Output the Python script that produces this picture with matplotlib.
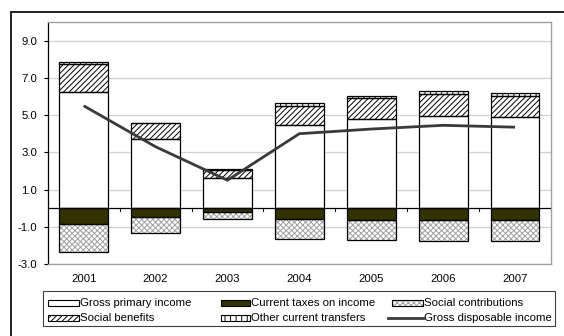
import matplotlib
matplotlib.use('Agg')
import matplotlib.pyplot as plt
import numpy as np
from matplotlib.patches import Rectangle
from matplotlib.lines import Line2D

years = ['2001', '2002', '2003', '2004', '2005', '2006', '2007']
gross_primary = [6.25, 3.70, 1.63, 4.48, 4.78, 4.96, 4.91]
social_benefits = [1.52, 0.85, 0.41, 1.02, 1.14, 1.18, 1.13]
other_transfers = [0.09, 0.05, 0.08, 0.15, 0.08, 0.14, 0.13]
current_taxes = [-0.85, -0.50, -0.23, -0.57, -0.66, -0.66, -0.66]
social_contrib = [-1.52, -0.84, -0.34, -1.09, -1.04, -1.11, -1.11]
gross_disposable = [5.5, 3.3, 1.5, 4.0, 4.25, 4.45, 4.35]
yticks = [-3.0, -1.0, 1.0, 3.0, 5.0, 7.0, 9.0]

plt.rcParams['font.family'] = ['Liberation Sans', 'DejaVu Sans']
plt.rcParams['hatch.linewidth'] = 0.7

W, H = 564, 336
fig = plt.figure(figsize=(W / 100, H / 100), dpi=100)
fx = lambda p: p / W
fy = lambda p: 1 - p / H

ax = fig.add_axes([fx(47.7), fy(264), fx(551) - fx(47.7), fy(22) - fy(264)])

x = np.arange(len(years))
bw = 0.68
olive = '#333300'
gp = np.array(gross_primary)
sb = np.array(social_benefits)
ot = np.array(other_transfers)
ct = np.array(current_taxes)
sc = np.array(social_contrib)


def hbar(bottom, height, color, hatch, hcol):
    ax.bar(x, height, bw, bottom=bottom, color=color, hatch=hatch,
           edgecolor=hcol, linewidth=0, zorder=3)
    ax.bar(x, height, bw, bottom=bottom, fill=False, edgecolor='black',
           linewidth=0.9, zorder=4)


hbar(0, gp, 'white', None, 'black')
hbar(gp, sb, 'white', '//////', 'black')
hbar(gp + sb, ot, 'white', '|||', 'black')
hbar(0, ct, olive, None, 'black')
hbar(ct, sc, 'white', 'xxxxxx', '#a0a0a0')

ax.plot(x, gross_disposable, color='#3a3a3a', linewidth=2.0, zorder=5,
        solid_capstyle='butt')

ax.set_xlim(-0.5, len(years) - 0.5)
ax.set_ylim(-3.0, 10.0)
ax.set_yticks(yticks)
ax.set_yticklabels([f'{v:.1f}' for v in yticks], fontsize=8.2)
ax.yaxis.grid(True, color='#d0d0d0', linewidth=0.9, zorder=0)
ax.set_axisbelow(True)
ax.tick_params(axis='y', length=3, width=0.8, pad=4.5, color='black')
ax.set_xticks(x)
ax.set_xticklabels(years, fontsize=8.2)
ax.tick_params(axis='x', length=0, pad=7.5)

for s in ['top', 'right', 'bottom']:
    ax.spines[s].set_color('#a0a0a0')
    ax.spines[s].set_linewidth(1.0)
ax.spines['left'].set_color('black')
ax.spines['left'].set_linewidth(0.9)

ax.axhline(0, color='black', linewidth=0.9, zorder=6)
for b in np.arange(0.5, len(years) - 0.5, 1.0):
    ax.plot([b, b], [0, -0.16], color='black', linewidth=0.8, zorder=6)

# outer frame
fig.patches.append(Rectangle((fx(10.5), -0.2), 1.2, fy(12) + 0.2,
                             transform=fig.transFigure, fill=False,
                             edgecolor='#202020', linewidth=1.4))

# legend box
fig.patches.append(Rectangle((fx(43.3), fy(325.7)), fx(555) - fx(43.3),
                             fy(291) - fy(325.7), transform=fig.transFigure,
                             fill=False, edgecolor='#404040', linewidth=0.8))

rows = [303, 317.7]
items = [
    (0, 48.3, 79.3, 'Gross primary income', 'white', None, 'black'),
    (0, 220.7, 250.0, 'Current taxes on income', olive, None, 'black'),
    (0, 391.7, 422.7, 'Social contributions', 'white', 'xxxxxx', '#a0a0a0'),
    (1, 48.3, 79.3, 'Social benefits', 'white', '//////', 'black'),
    (1, 220.7, 250.0, 'Other current transfers', 'white', '|||', 'black'),
]
for r, x0, x1, label, col, hatch, hcol in items:
    yc = rows[r]
    fig.patches.append(Rectangle((fx(x0), fy(yc + 3)), fx(x1) - fx(x0),
                                 fy(yc - 3) - fy(yc + 3),
                                 transform=fig.transFigure, facecolor=col,
                                 hatch=hatch, edgecolor=hcol, linewidth=0))
    fig.patches.append(Rectangle((fx(x0), fy(yc + 3)), fx(x1) - fx(x0),
                                 fy(yc - 3) - fy(yc + 3),
                                 transform=fig.transFigure, fill=False,
                                 edgecolor='black', linewidth=0.8))
    fig.text(fx(x1 + 1), fy(yc), label, fontsize=8.2, va='center', ha='left')

yc = rows[1]
fig.lines.append(Line2D([fx(388), fx(422.7)], [fy(yc), fy(yc)],
                        transform=fig.transFigure, color='#3a3a3a',
                        linewidth=2.0))
fig.text(fx(423.7), fy(yc), 'Gross disposable income', fontsize=8.2,
         va='center', ha='left')

fig.savefig('out.png', dpi=100)
